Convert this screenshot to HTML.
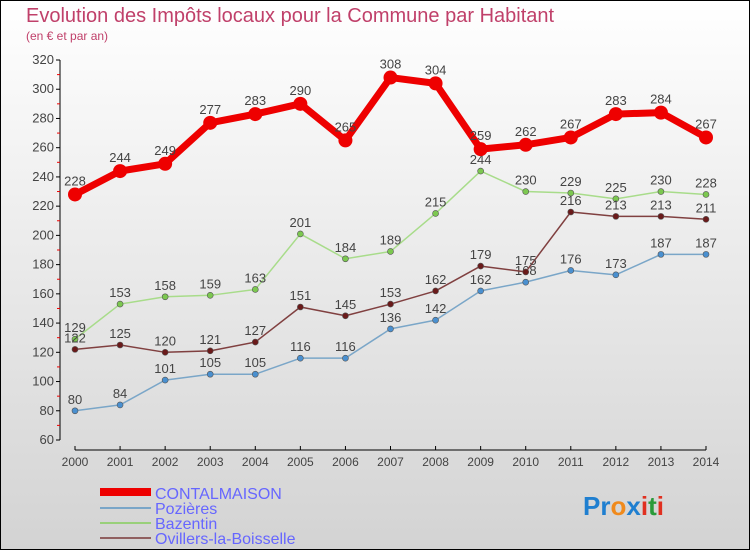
<!DOCTYPE html>
<html><head><meta charset="utf-8"><style>
body{margin:0}
#c{width:750px;height:550px;position:relative;overflow:hidden}
text{font-family:"Liberation Sans",sans-serif}
</style></head><body>
<div id="c">
<svg id="s" width="750" height="550" xmlns="http://www.w3.org/2000/svg">
<defs><linearGradient id="bg" x1="0" y1="0" x2="0" y2="1"><stop offset="0" stop-color="#ffffff"/><stop offset="1" stop-color="#d3d3d3"/></linearGradient></defs>
<rect x="0.5" y="0.5" width="749" height="549" fill="url(#bg)" stroke="#000"/>
<text x="26" y="22" font-size="20" fill="#c0406a">Evolution des Impôts locaux pour la Commune par Habitant</text>
<text x="26" y="40" font-size="12" fill="#c0406a">(en € et par an)</text>
<g id="axes"></g><g id="series"></g>
<g>
<line x1="100" y1="492" x2="151" y2="492" stroke="#e00" stroke-width="8"/>
<text x="155" y="499" font-size="16" fill="#6666ff">CONTALMAISON</text>
<line x1="100" y1="508" x2="151" y2="508" stroke="#7aa6c8" stroke-width="2"/>
<text x="155" y="514" font-size="16" fill="#6666ff">Pozières</text>
<line x1="100" y1="523" x2="151" y2="523" stroke="#99d07a" stroke-width="2"/>
<text x="155" y="529" font-size="16" fill="#6666ff">Bazentin</text>
<line x1="100" y1="538" x2="151" y2="538" stroke="#906060" stroke-width="2"/>
<text x="155" y="544" font-size="16" fill="#6666ff">Ovillers-la-Boisselle</text>
</g>
<g font-size="26" font-weight="bold">
<text x="583" y="515"><tspan fill="#1f7fd0">Pr</tspan><tspan fill="#f08a1c">o</tspan><tspan fill="#1f7fd0">x</tspan><tspan fill="#e03020">i</tspan><tspan fill="#2a9a3a">t</tspan><tspan fill="#e03020">i</tspan></text>
</g>
</svg></div>
<script>
const years=[2000,2001,2002,2003,2004,2005,2006,2007,2008,2009,2010,2011,2012,2013,2014];
const contalmaison=[228,244,249,277,283,290,265,308,304,259,262,267,283,284,267];
const pozieres=[80,84,101,105,105,116,116,136,142,162,168,176,173,187,187];
const bazentin=[129,153,158,159,163,201,184,189,215,244,230,229,225,230,228];
const ovillers=[122,125,120,121,127,151,145,153,162,179,175,216,213,213,211];
const yTicks=[60,80,100,120,140,160,180,200,220,240,260,280,300,320];
const NS="http://www.w3.org/2000/svg";
function xs(i){return 75+i*(706-75)/(years.length-1);}
function ys(v){return 440-(v-60)*(380/260);}
function mk(tag,attrs,parent,txt){const e=document.createElementNS(NS,tag);for(const k in attrs)e.setAttribute(k,attrs[k]);if(txt!==undefined)e.textContent=txt;parent.appendChild(e);return e;}
const ax=document.getElementById('axes');
let yl=mk('line',{x1:60,y1:60,x2:60,y2:440,stroke:'#000'},ax);


yTicks.forEach((v,i)=>{
 mk('line',{x1:56,y1:ys(v),x2:60,y2:ys(v),stroke:'#000'},ax);
 if(i<yTicks.length-1) mk('line',{x1:57,y1:ys(v+10),x2:60,y2:ys(v+10),stroke:'#e00'},ax);
 const t=mk('text',{x:54,y:ys(v)+4,'font-size':13,'text-anchor':'end',fill:'#444'},ax,v);
 
 
});
let xl=mk('line',{x1:75,y1:450,x2:706,y2:450,stroke:'#000'},ax);


years.forEach((y,i)=>{
 mk('line',{x1:xs(i),y1:446,x2:xs(i),y2:450,stroke:'#000'},ax);
 const t=mk('text',{x:xs(i),y:466,'font-size':12,'text-anchor':'middle',fill:'#444'},ax,y);
 
 
});
const sg=document.getElementById('series');
function draw(name,data,color,fill,w,r){
 const g=mk('g',{},sg);
 
 
 const pts=data.map((v,i)=>xs(i)+','+ys(v)).join(' ');
 mk('polyline',{points:pts,fill:'none',stroke:color,'stroke-width':w,'stroke-linejoin':'round'},g);
 data.forEach((v,i)=>{
  const c=mk('circle',{cx:xs(i),cy:ys(v),r:r,fill:fill,stroke:w>3?'none':'#555','stroke-width':0.6},g);
  
  
  const t=mk('text',{x:xs(i),y:ys(v)-(w>3?9:7),'font-size':13,'text-anchor':'middle',fill:'#444'},g,v);
  
  
 });
}
draw('pozieres',pozieres,'#7aa6c8','#4a90d0',1.5,3);
draw('bazentin',bazentin,'#a8dc8a','#7cc850',1.5,3);
draw('ovillers',ovillers,'#804040','#6a1a1a',1.5,3);
draw('contalmaison',contalmaison,'#ee0000','#ee0000',7,7);
</script>
</body></html>
